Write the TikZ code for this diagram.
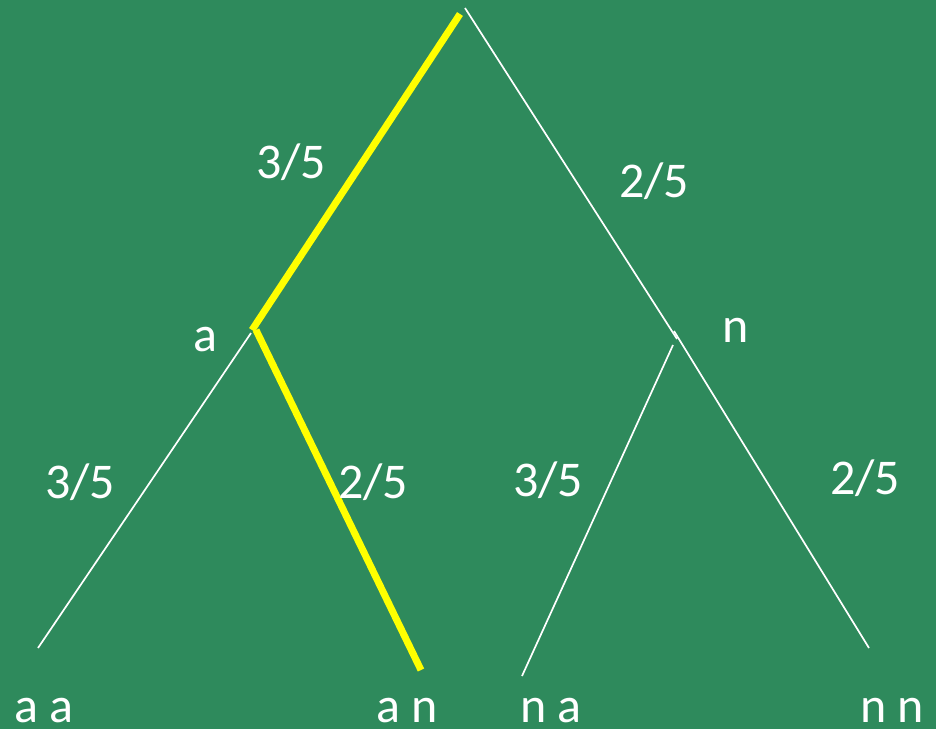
\documentclass[tikz,border=0pt]{standalone}
\usepackage{fontspec}
\setmainfont{Carlito}
\definecolor{bggreen}{HTML}{2E8A5C}
\definecolor{hlyellow}{HTML}{FFFF00}
\begin{document}
\begin{tikzpicture}[x=1pt,y=-1pt,
  lbl/.style={text=white,font=\fontsize{50}{54}\selectfont,inner sep=0pt,anchor=center},
  leaf/.style={lbl,anchor=base,text depth=0pt,text height=24pt},
  wline/.style={draw=white,line width=1.7pt},
  yline/.style={draw=hlyellow,line width=7pt}]
\fill[bggreen] (0,0) rectangle (936,729);
\useasboundingbox (0,0) rectangle (936,729);
% coordinates
\coordinate (top) at (465,8);
\coordinate (ytop) at (460,14);
\coordinate (yA) at (252,330);
\coordinate (yA2) at (256,330);
\coordinate (yAN) at (421,670);
\coordinate (wA) at (251,333);
\coordinate (wAA) at (38,648);
\coordinate (wN) at (677,339);
\coordinate (wN2) at (674,331);
\coordinate (wNN) at (869,648);
\coordinate (wN3) at (673,345);
\coordinate (wNA) at (522,676);
% lines
\draw[wline] (top) -- (wN);
\draw[wline] (wN2) -- (wNN);
\draw[wline] (wN3) -- (wNA);
\draw[wline] (wA) -- (wAA);
\draw[yline] (ytop) -- (yA);
\draw[yline] (yA2) -- (yAN);
% labels
\node[lbl] (p1) at (291,162) {3/5};
\node[lbl] (p2) at (654,181) {2/5};
\node[lbl] (la) at (205,340) {a};
\node[lbl] (ln) at (736,330) {n};
\node[lbl] (p3) at (80,482) {3/5};
\node[lbl] (p4) at (373,482) {2/5};
\node[lbl] (p5) at (548,480) {3/5};
\node[lbl] (p6) at (865,478) {2/5};
\node[leaf] (aa) at (44,722) {a a};
\node[leaf] (an) at (407,722) {a n};
\node[leaf] (na) at (551,722) {n a};
\node[leaf] (nn) at (892,722) {n n};
\end{tikzpicture}
\end{document}
